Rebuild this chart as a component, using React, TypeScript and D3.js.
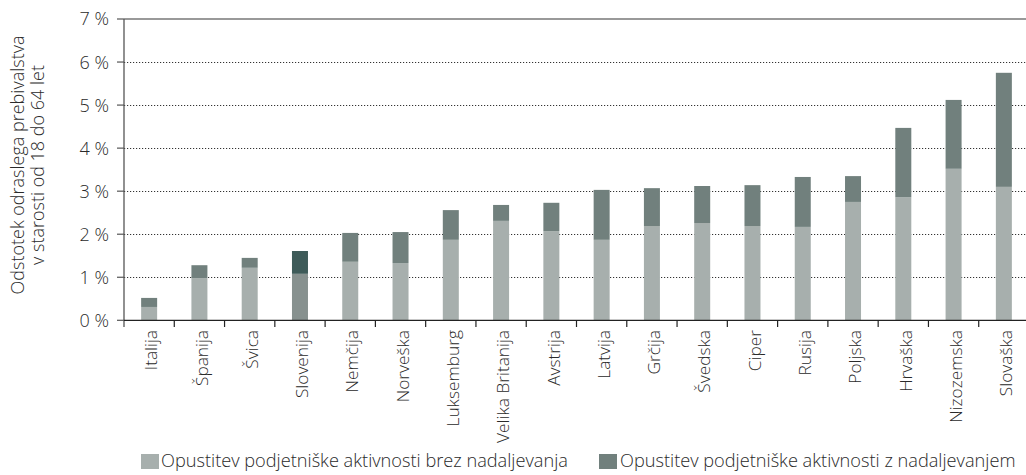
import React from "react";
import * as d3 from "d3";

const categories = ["Italija", "Španija", "Švica", "Slovenija", "Nemčija", "Norveška", "Luksemburg", "Velika Britanija", "Avstrija", "Latvija", "Grčija", "Švedska", "Ciper", "Rusija", "Poljska", "Hrvaška", "Nizozemska", "Slovaška"];
const withoutContinuation = [0.31, 0.98, 1.22, 1.08, 1.36, 1.33, 1.87, 2.31, 2.07, 1.87, 2.19, 2.26, 2.19, 2.17, 2.75, 2.86, 3.52, 3.10];
const withContinuation = [0.21, 0.30, 0.23, 0.53, 0.67, 0.72, 0.69, 0.37, 0.66, 1.16, 0.88, 0.86, 0.95, 1.16, 0.60, 1.61, 1.60, 2.65];
const yTicks = [0, 1, 2, 3, 4, 5, 6, 7];
const seriesNames = ["Opustitev podjetniške aktivnosti brez nadaljevanja", "Opustitev podjetniške aktivnosti z nadaljevanjem"];
const highlight = "Slovenija";

const W = 1026, H = 475;
const FONT = "'Open Sans', sans-serif";

export default function App() {
  const x = d3.scaleBand<string>().domain(categories).range([124, 1029]).padding(0);
  const y = d3.scaleLinear().domain([0, 7]).range([320.3, 19]);
  const bw = 16;
  const textColor = "#2a2a2a";

  const colors = (c: string) =>
    c === highlight ? ["#87918f", "#3e5b59"] : ["#a7afad", "#71807d"];

  return (
    <svg width={W} height={H} style={{ position: "absolute", left: 0, top: 0, fontFamily: FONT }}>
      <rect width={W} height={H} fill="#fff" />
      {yTicks.filter(t => t > 0 && t < 7).map(t => (
        <line key={"g" + t} x1={124} x2={W} y1={Math.round(y(t)) + 0.5} y2={Math.round(y(t)) + 0.5}
          stroke="#333" strokeWidth={1} strokeDasharray="1.2,1.8" />
      ))}
      <line x1={124} x2={W} y1={y(7)} y2={y(7)} stroke="#777" strokeWidth={1.6} />
      {yTicks.map(t => (
        <g key={"yt" + t}>
          <line x1={117} x2={124} y1={y(t)} y2={y(t)} stroke="#555" strokeWidth={1.2} />
          <text x={109} y={y(t)} dy="0.36em" textAnchor="end" fontSize={18} fontWeight={300} fill={textColor}>
            {t + "\u00a0%"}
          </text>
        </g>
      ))}
      {categories.map((c, i) => {
        const cx = (x(c) as number) + x.bandwidth() / 2;
        const v1 = withoutContinuation[i];
        const v2 = withContinuation[i];
        const [c1, c2] = colors(c);
        return (
          <g key={c}>
            <rect x={cx - bw / 2} y={y(v1)} width={bw} height={y(0) - y(v1)} fill={c1} />
            <rect x={cx - bw / 2} y={y(v1 + v2)} width={bw} height={y(v1) - y(v1 + v2)} fill={c2} />
          </g>
        );
      })}
      <line x1={124} x2={124} y1={y(7)} y2={327} stroke="#555" strokeWidth={1.3} />
      <line x1={124} x2={W} y1={y(0)} y2={y(0)} stroke="#222" strokeWidth={1.3} />
      {categories.map((c, i) => {
        const bx = (x(c) as number) + x.bandwidth();
        return i < categories.length - 1 ? (
          <line key={"xt" + c} x1={bx} x2={bx} y1={y(0)} y2={327} stroke="#222" strokeWidth={1.2} />
        ) : null;
      })}
      {categories.map(c => {
        const cx = (x(c) as number) + x.bandwidth() / 2;
        return (
          <text key={"xl" + c} transform={`translate(${cx + 2},${330}) rotate(-90)`} dy="0.36em" textAnchor="end"
            fontSize={17.3} fontWeight={300} fill={textColor}>
            {c}
          </text>
        );
      })}
      <g transform="translate(18,165) rotate(-90)">
        <text textAnchor="middle" dy="0.36em" fontSize={18} fontWeight={300} fill={textColor}>Odstotek odraslega prebivalstva</text>
        <text y={20} textAnchor="middle" dy="0.36em" fontSize={18} fontWeight={300} fill={textColor}>v starosti od 18 do 64 let</text>
      </g>
      <rect x={141} y={454} width={18} height={15} fill="#a7afad" />
      <text x={161} y={467} fontSize={18.2} fontWeight={300} fill={textColor}>{seriesNames[0]}</text>
      <rect x={599} y={454} width={18} height={15} fill="#71807d" />
      <text x={620} y={467} fontSize={18.2} fontWeight={300} fill={textColor}>{seriesNames[1]}</text>
    </svg>
  );
}
